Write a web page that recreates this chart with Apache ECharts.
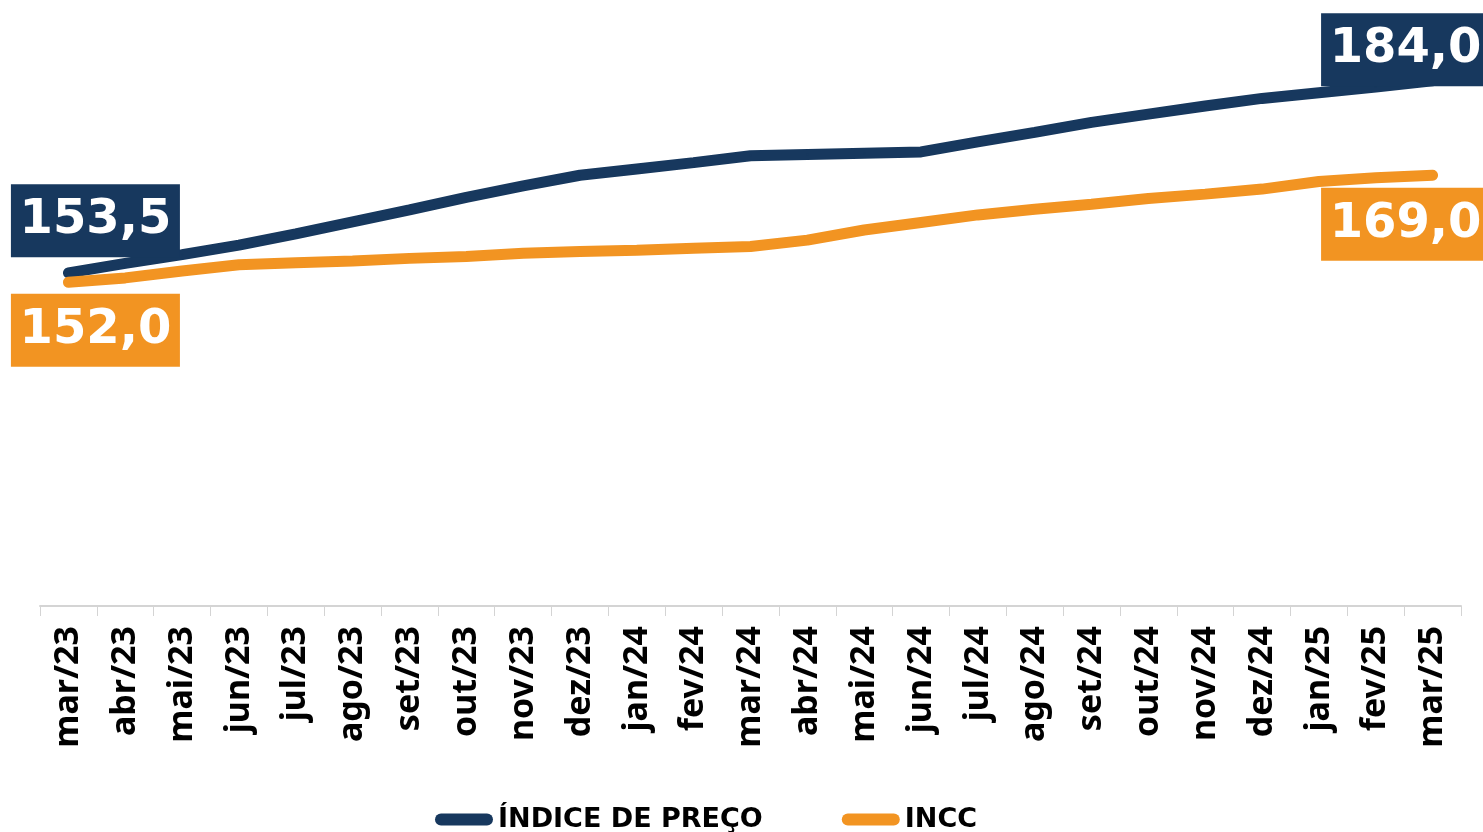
<!DOCTYPE html>
<html>
<head>
<meta charset="utf-8">
<title>Índice de preço x INCC</title>
<script src="https://cdn.jsdelivr.net/npm/echarts@6/dist/echarts.min.js"></script>
<style>
    html, body { margin: 0; padding: 0; background: #ffffff; }
    #linechart { width: 1483px; height: 832px; }
</style>
</head>
<body>
<div id="linechart"></div>
<script>
var categories = ['mar/23', 'abr/23', 'mai/23', 'jun/23', 'jul/23', 'ago/23', 'set/23', 'out/23', 'nov/23',
    'dez/23', 'jan/24', 'fev/24', 'mar/24', 'abr/24', 'mai/24', 'jun/24', 'jul/24', 'ago/24', 'set/24',
    'out/24', 'nov/24', 'dez/24', 'jan/25', 'fev/25', 'mar/25'];
var indiceValues = [153.5, 155.0, 156.4, 157.9, 159.7, 161.6, 163.5, 165.5, 167.3, 169.0, 170.0, 171.0,
    172.1, 172.3, 172.5, 172.7, 174.3, 175.8, 177.4, 178.7, 180.0, 181.2, 182.1, 183.0, 184.0];
var inccValues = [152.0, 152.7, 153.8, 154.8, 155.1, 155.4, 155.8, 156.1, 156.6, 156.9, 157.1, 157.4,
    157.7, 158.7, 160.3, 161.5, 162.7, 163.6, 164.4, 165.3, 166.0, 166.8, 168.0, 168.6, 169.0];
var seriesNames = ['ÍNDICE DE PREÇO', 'INCC'];

var blue = '#17385E';
var orange = '#F29422';

// etiqueta só no primeiro e no último ponto
var makeLabel = function (color, offset) {
    return {
        show: true,
        position: 'inside',
        offset: offset,
        formatter: function (p) {
            return p.value.toFixed(1).replace('.', ',');
        },
        color: '#ffffff',
        fontFamily: 'DejaVu Sans',
        fontWeight: 'bold',
        fontSize: 48,
        backgroundColor: color,
        width: 169,
        height: 73,
        lineHeight: 73,
        padding: 0,
        align: 'center',
        verticalAlign: 'middle'
    };
};

var getSeriesData = function (values, color, firstOffset, lastOffset) {
    var data = [];
    values.forEach(function (v, i) {
        if (i === 0) {
            data.push({ value: v, label: makeLabel(color, firstOffset) });
        } else if (i === values.length - 1) {
            data.push({ value: v, label: makeLabel(color, lastOffset) });
        } else {
            data.push(v);
        }
    });
    return data;
};

var myChart = echarts.init(document.getElementById('linechart'));
var option = {
    animation: false,
    backgroundColor: '#ffffff',
    legend: {
        data: seriesNames,
        left: 430,
        top: 801,
        itemWidth: 58,
        itemHeight: 12,
        itemGap: 79,
        icon: 'path://M6,0 L52,0 A6,6 0 0 1 52,12 L6,12 A6,6 0 0 1 6,0 Z',
        textStyle: {
            color: '#000000',
            fontFamily: 'DejaVu Sans',
            fontWeight: 'bold',
            fontSize: 27
        }
    },
    grid: {
        left: 40,
        right: 22,
        top: 43,
        bottom: 226
    },
    xAxis: {
        type: 'category',
        boundaryGap: true,
        data: categories,
        axisLine: { lineStyle: { color: '#d4d4d4', width: 2 } },
        axisTick: { show: true, length: 10, lineStyle: { color: '#d4d4d4', width: 1 } },
        axisLabel: {
            rotate: 90,
            interval: 0,
            margin: 20,
            color: '#000000',
            fontFamily: 'Noto Sans',
            fontWeight: 'bold',
            fontSize: 34
        }
    },
    yAxis: {
        type: 'value',
        min: 100.6,
        max: 190,
        show: false,
        splitLine: { show: false }
    },
    series: [
        {
            name: seriesNames[0],
            type: 'line',
            symbol: 'circle',
            symbolSize: 2,
            showSymbol: true,
            itemStyle: { color: blue },
            lineStyle: { color: blue, width: 11, cap: 'round' },
            data: getSeriesData(indiceValues, blue, [27, -52], [-27, -31])
        },
        {
            name: seriesNames[1],
            type: 'line',
            symbol: 'circle',
            symbolSize: 2,
            showSymbol: true,
            itemStyle: { color: orange },
            lineStyle: { color: orange, width: 11, cap: 'round' },
            data: getSeriesData(inccValues, orange, [27, 48], [-27, 49])
        }
    ]
};
option && myChart.setOption(option);
window.onresize = function () {
    myChart.resize();
};
</script>
</body>
</html>
